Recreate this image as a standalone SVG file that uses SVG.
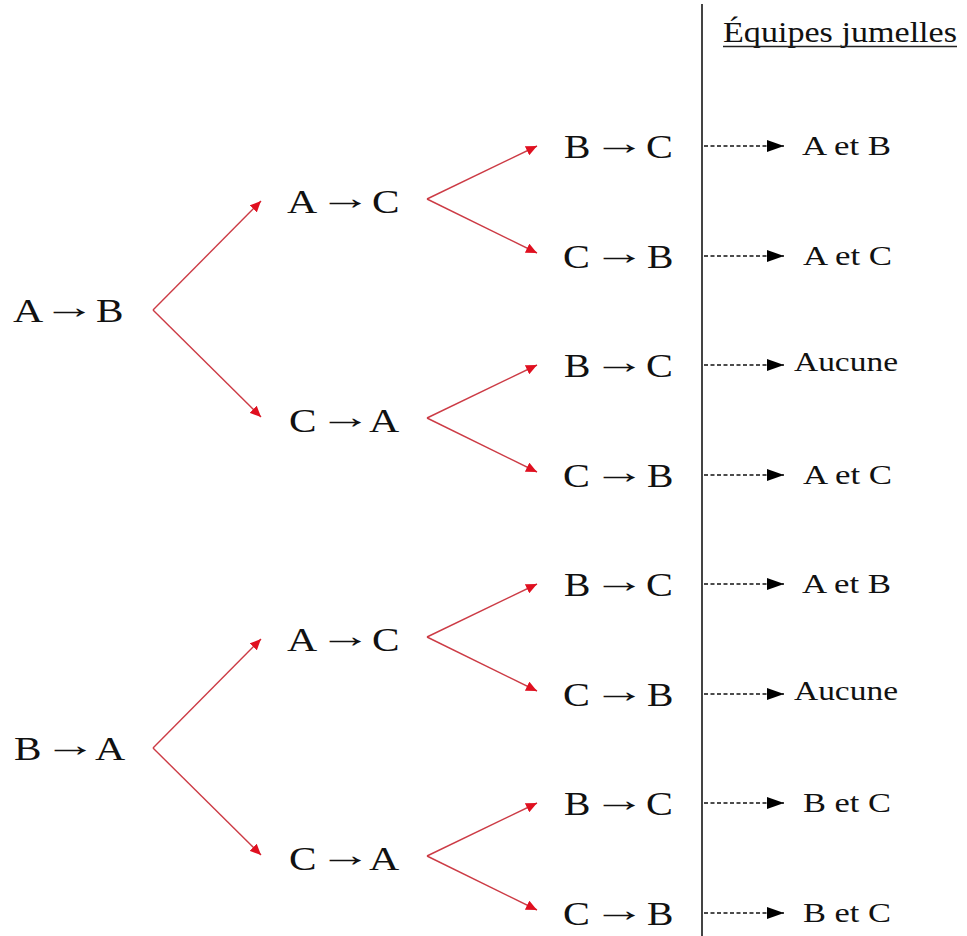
<svg xmlns="http://www.w3.org/2000/svg" width="967" height="936" viewBox="0 0 967 936">
<style>
.t{font-family:"Liberation Serif","Times New Roman",serif;fill:#111}
.n text{font-size:33px}
.n .ar{text-anchor:middle}
.lab{font-size:28px}
.hd{font-size:29px}
.red{stroke:#cc3b45;stroke-width:1.4;fill:none;marker-end:url(#rh)}
.dash{stroke:#111;stroke-width:1.6;stroke-dasharray:4 2.5;fill:none;marker-end:url(#bh)}
</style>
<defs>
<marker id="rh" markerUnits="userSpaceOnUse" markerWidth="12" markerHeight="10" refX="11" refY="5" orient="auto">
<path d="M0,0 L11,5 L0,10 z" fill="#e01020"/>
</marker>
<marker id="bh" markerUnits="userSpaceOnUse" markerWidth="18" markerHeight="12" refX="17" refY="6" orient="auto">
<path d="M0,0 L17,6 L0,12 z" fill="#000"/>
</marker>
</defs>
<rect width="967" height="936" fill="#fff"/>
<line x1="702" y1="4" x2="702" y2="936" stroke="#444" stroke-width="2"/>
<g id="header">
<text class="t hd" x="723" y="42" textLength="234" lengthAdjust="spacingAndGlyphs">Équipes jumelles</text>
<line x1="723" y1="46.5" x2="957" y2="46.5" stroke="#222" stroke-width="1.3"/>
</g>
<g id="connectors">
<line class="red" x1="153" y1="310" x2="261" y2="201"/>
<line class="red" x1="153" y1="310" x2="261" y2="417"/>
<line class="red" x1="153" y1="748" x2="261" y2="639"/>
<line class="red" x1="153" y1="748" x2="261" y2="855"/>
<line class="red" x1="427" y1="199" x2="537" y2="146"/>
<line class="red" x1="427" y1="199" x2="537" y2="253"/>
<line class="red" x1="427" y1="418" x2="537" y2="365"/>
<line class="red" x1="427" y1="418" x2="537" y2="472"/>
<line class="red" x1="427" y1="637" x2="537" y2="584"/>
<line class="red" x1="427" y1="637" x2="537" y2="691"/>
<line class="red" x1="427" y1="856" x2="537" y2="803"/>
<line class="red" x1="427" y1="856" x2="537" y2="910"/>
<line class="dash" x1="704" y1="146" x2="784" y2="146"/>
<line class="dash" x1="704" y1="256" x2="784" y2="256"/>
<line class="dash" x1="704" y1="365" x2="784" y2="365"/>
<line class="dash" x1="704" y1="475" x2="784" y2="475"/>
<line class="dash" x1="704" y1="584" x2="784" y2="584"/>
<line class="dash" x1="704" y1="694" x2="784" y2="694"/>
<line class="dash" x1="704" y1="803" x2="784" y2="803"/>
<line class="dash" x1="704" y1="913" x2="784" y2="913"/>
</g>
<g id="n-AB" class="t n">
<text transform="translate(13,322) scale(1.27,1)">A</text>
<text class="ar" transform="translate(69,318) scale(1.6,1)">→</text>
<text transform="translate(96,322) scale(1.25,1)">B</text>
</g>
<g id="n-BA" class="t n">
<text transform="translate(14,760) scale(1.25,1)">B</text>
<text class="ar" transform="translate(70,756) scale(1.6,1)">→</text>
<text transform="translate(95,760) scale(1.27,1)">A</text>
</g>
<g id="n-AB-AC" class="t n">
<text transform="translate(287,213) scale(1.27,1)">A</text>
<text class="ar" transform="translate(345,209) scale(1.6,1)">→</text>
<text transform="translate(372,213) scale(1.25,1)">C</text>
</g>
<g id="n-AB-CA" class="t n">
<text transform="translate(289,432) scale(1.25,1)">C</text>
<text class="ar" transform="translate(345,428) scale(1.6,1)">→</text>
<text transform="translate(369,432) scale(1.27,1)">A</text>
</g>
<g id="n-BA-AC" class="t n">
<text transform="translate(287,651) scale(1.27,1)">A</text>
<text class="ar" transform="translate(345,647) scale(1.6,1)">→</text>
<text transform="translate(372,651) scale(1.25,1)">C</text>
</g>
<g id="n-BA-CA" class="t n">
<text transform="translate(289,870) scale(1.25,1)">C</text>
<text class="ar" transform="translate(345,866) scale(1.6,1)">→</text>
<text transform="translate(369,870) scale(1.27,1)">A</text>
</g>
<g id="n3-1" class="t n">
<text transform="translate(564,158) scale(1.2,1)">B</text>
<text class="ar" transform="translate(619,154) scale(1.6,1)">→</text>
<text transform="translate(646,158) scale(1.22,1)">C</text>
</g>
<g id="n3-2" class="t n">
<text transform="translate(563,268) scale(1.22,1)">C</text>
<text class="ar" transform="translate(619,264) scale(1.6,1)">→</text>
<text transform="translate(647,268) scale(1.2,1)">B</text>
</g>
<g id="n3-3" class="t n">
<text transform="translate(564,377) scale(1.2,1)">B</text>
<text class="ar" transform="translate(619,373) scale(1.6,1)">→</text>
<text transform="translate(646,377) scale(1.22,1)">C</text>
</g>
<g id="n3-4" class="t n">
<text transform="translate(563,487) scale(1.22,1)">C</text>
<text class="ar" transform="translate(619,483) scale(1.6,1)">→</text>
<text transform="translate(647,487) scale(1.2,1)">B</text>
</g>
<g id="n3-5" class="t n">
<text transform="translate(564,596) scale(1.2,1)">B</text>
<text class="ar" transform="translate(619,592) scale(1.6,1)">→</text>
<text transform="translate(646,596) scale(1.22,1)">C</text>
</g>
<g id="n3-6" class="t n">
<text transform="translate(563,706) scale(1.22,1)">C</text>
<text class="ar" transform="translate(619,702) scale(1.6,1)">→</text>
<text transform="translate(647,706) scale(1.2,1)">B</text>
</g>
<g id="n3-7" class="t n">
<text transform="translate(564,815) scale(1.2,1)">B</text>
<text class="ar" transform="translate(619,811) scale(1.6,1)">→</text>
<text transform="translate(646,815) scale(1.22,1)">C</text>
</g>
<g id="n3-8" class="t n">
<text transform="translate(563,925) scale(1.22,1)">C</text>
<text class="ar" transform="translate(619,921) scale(1.6,1)">→</text>
<text transform="translate(647,925) scale(1.2,1)">B</text>
</g>
<g id="r1"><text class="t lab" x="802" y="155" textLength="89" lengthAdjust="spacingAndGlyphs">A et B</text></g>
<g id="r2"><text class="t lab" x="803" y="265" textLength="89" lengthAdjust="spacingAndGlyphs">A et C</text></g>
<g id="r3"><text class="t lab" x="794" y="371" textLength="104" lengthAdjust="spacingAndGlyphs">Aucune</text></g>
<g id="r4"><text class="t lab" x="803" y="484" textLength="89" lengthAdjust="spacingAndGlyphs">A et C</text></g>
<g id="r5"><text class="t lab" x="802" y="593" textLength="89" lengthAdjust="spacingAndGlyphs">A et B</text></g>
<g id="r6"><text class="t lab" x="794" y="700" textLength="104" lengthAdjust="spacingAndGlyphs">Aucune</text></g>
<g id="r7"><text class="t lab" x="803" y="812" textLength="88" lengthAdjust="spacingAndGlyphs">B et C</text></g>
<g id="r8"><text class="t lab" x="803" y="922" textLength="88" lengthAdjust="spacingAndGlyphs">B et C</text></g>
</svg>
